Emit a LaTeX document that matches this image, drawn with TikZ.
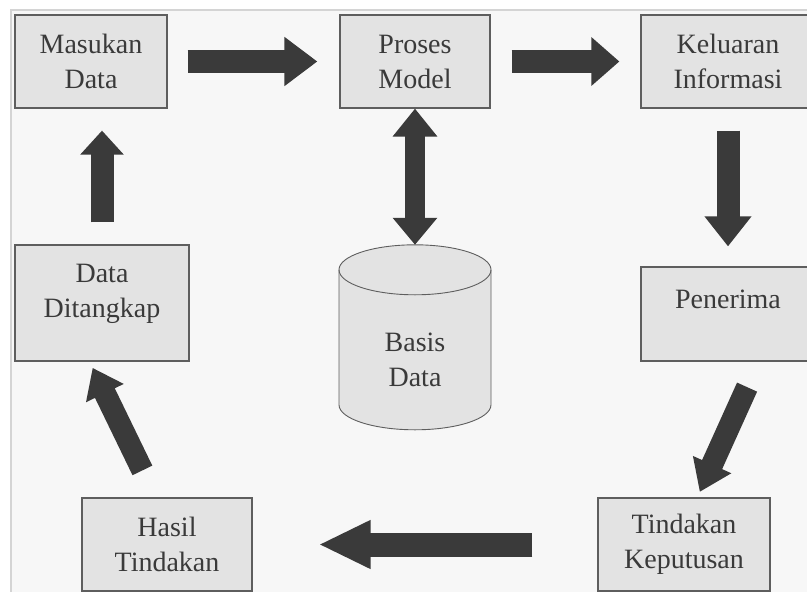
\documentclass[tikz,border=0pt]{standalone}
\usepackage{fontspec}
\setmainfont{Liberation Serif}
\usetikzlibrary{arrows.meta}
\definecolor{latar}{HTML}{F7F7F7}
\definecolor{bingkai}{HTML}{D4D4D4}
\definecolor{isi}{HTML}{E3E3E3}
\definecolor{garis}{HTML}{5E5E5E}
\definecolor{gelap}{HTML}{3A3A3A}
\tikzstyle{kotak}=[rectangle, draw=garis, fill=isi, line width=1.2pt, inner sep=0pt, align=center, text=gelap, font=\fontsize{28}{35}\selectfont]
\tikzstyle{tulisan}=[inner sep=0pt, align=center, text=gelap, font=\fontsize{28}{35}\selectfont]
\tikzstyle{silinder}=[draw=garis, line width=0.9pt]
\tikzstyle{panah}=[draw=gelap, line width=23pt]

\begin{document}
\begin{tikzpicture}[x=1pt, y=-1pt]
		   \clip (0,0) rectangle (807,592);
		   \fill[white] (0,0) rectangle (807,592);
		   \fill[latar] (11,10) rectangle (807,592);
		   \draw[bingkai, line width=1.5pt] (11,592) -- (11,10) -- (807,10);
		   % kotak proses
		   \begin{scope}
			   \node (masukan) at (91,61.5)[kotak, minimum width=152pt, minimum height=93pt] {Masukan\\Data};
			   \node (proses) at (415,61.5)[kotak, minimum width=150pt, minimum height=93pt] {Proses\\Model};
			   \node (keluaran) at (728,61.5)[kotak, minimum width=174pt, minimum height=93pt] {Keluaran\\Informasi};
			   \node (ditangkap) at (102,303)[kotak, minimum width=174pt, minimum height=116pt] {};
			   \node (ditangkap-teks) at (102,294)[tulisan] {Data\\Ditangkap};
			   \node (penerima) at (728,314)[kotak, minimum width=174pt, minimum height=94pt] {};
			   \node (penerima-teks) at (728,299)[tulisan] {Penerima};
			   \node (hasil) at (167,544.5)[kotak, minimum width=170pt, minimum height=93pt] {Hasil\\Tindakan};
			   \node (tindakan) at (684,544.5)[kotak, minimum width=172pt, minimum height=93pt] {Tindakan\\Keputusan};
		   \end{scope}
		   % basis data
		   \begin{scope}
			   \node (basis) at (415,337.5)[minimum width=152pt, minimum height=185pt, inner sep=0pt] {};
			   \coordinate (atas) at ([yshift=-25pt]basis.north);
			   \fill[isi] ([xshift=-76pt]atas) -- ++(0,135) arc[start angle=180, end angle=0, x radius=76, y radius=25] -- ++(0,-135) arc[start angle=0, end angle=-180, x radius=76, y radius=25] -- cycle;
			   \draw[silinder] ([xshift=-76pt]atas) -- ++(0,135) arc[start angle=180, end angle=0, x radius=76, y radius=25] -- ++(0,-135);
			   \draw[silinder] (atas) ellipse[x radius=76, y radius=25];
			   \node (basis-teks) at (415,360)[tulisan] {Basis\\Data};
		   \end{scope}
		   % panah alur
		   \begin{scope}
			   \draw [panah, -{Triangle[length=33pt,width=47pt]}, shorten <=20pt, shorten >=22pt] (masukan) -- (proses);
			   \draw [panah, -{Triangle[length=28pt,width=47pt]}, shorten <=21pt, shorten >=21pt] (proses) -- (keluaran);
			   \draw [panah, -{Triangle[length=30pt,width=45pt]}, shorten <=22pt, shorten >=20pt] (keluaran) -- (penerima);
			   \draw [panah, line width=20pt, {Triangle[length=28pt,width=43pt]}-{Triangle[length=27pt,width=43pt]}] (proses) -- (basis);
			   \draw [panah, -{Triangle[length=24pt,width=42pt]}, shorten <=22pt, shorten >=22pt] (ditangkap.north) -- (ditangkap.north |- masukan.south);
			   \draw [panah, line width=22pt, -{Triangle[length=28pt,width=40pt]}, shorten <=30pt, shorten >=7pt] ([xshift=-11.5pt]hasil.north) -- ([xshift=-12.4pt]ditangkap.south);
			   \draw [panah, line width=22pt, -{Triangle[length=30pt,width=40pt]}, shorten <=28pt, shorten >=6pt] ([xshift=30.6pt]penerima.south) -- ([xshift=13.3pt]tindakan.north);
			   \draw [panah, line width=24pt, -{Triangle[length=52pt,width=45pt]}, shorten <=65pt, shorten >=66pt] (tindakan) -- (hasil);
		   \end{scope}
	   \end{tikzpicture}
\end{document}
